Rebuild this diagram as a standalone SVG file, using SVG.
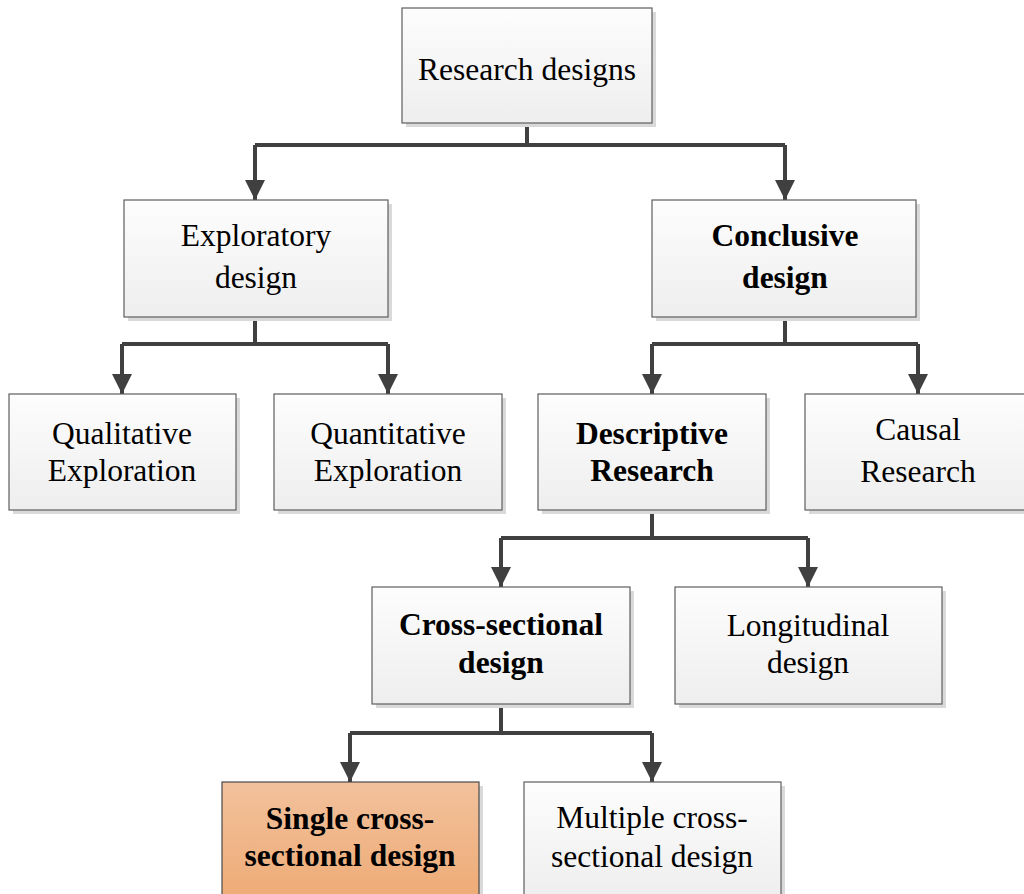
<svg xmlns="http://www.w3.org/2000/svg" width="1024" height="894" viewBox="0 0 1024 894">
<defs>
<linearGradient id="g" x1="0" y1="0" x2="0" y2="1"><stop offset="0" stop-color="#fdfdfd"/><stop offset="1" stop-color="#eeeeee"/></linearGradient>
<linearGradient id="go" x1="0" y1="0" x2="0" y2="1"><stop offset="0" stop-color="#f2c19c"/><stop offset="1" stop-color="#eeab76"/></linearGradient>
<marker id="ah" markerUnits="userSpaceOnUse" markerWidth="22" markerHeight="22" refX="20" refY="10" orient="auto"><path d="M0,0 L20,10 L0,20 Z" fill="#404040"/></marker>
<style>
.sh{fill:#d9d9d9}
.bx{fill:url(#g);stroke:#5e5e5e;stroke-width:1.2}
.bo{fill:url(#go);stroke:#4a4a4a;stroke-width:1.2}
text{font-family:"Liberation Serif","Times New Roman",serif;font-size:31.5px;fill:#000;text-anchor:middle}
.b{font-weight:bold}
.c{fill:none;stroke:#404040;stroke-width:4}
</style>
</defs>
<g id="connectors">
<path class="c" d="M527,123 V145"/>
<path class="c" d="M255,145 H785"/>
<path class="c" d="M255,145 V200" marker-end="url(#ah)"/>
<path class="c" d="M785,145 V200" marker-end="url(#ah)"/>
<path class="c" d="M255,317 V344 M122,344 H388"/>
<path class="c" d="M122,344 V394" marker-end="url(#ah)"/>
<path class="c" d="M388,344 V394" marker-end="url(#ah)"/>
<path class="c" d="M785,317 V344 M652,344 H918"/>
<path class="c" d="M652,344 V394" marker-end="url(#ah)"/>
<path class="c" d="M918,344 V394" marker-end="url(#ah)"/>
<path class="c" d="M652,510 V538 M501,538 H808"/>
<path class="c" d="M501,538 V587" marker-end="url(#ah)"/>
<path class="c" d="M808,538 V587" marker-end="url(#ah)"/>
<path class="c" d="M501,704 V733 M350,733 H652"/>
<path class="c" d="M350,733 V782" marker-end="url(#ah)"/>
<path class="c" d="M652,733 V782" marker-end="url(#ah)"/>
</g>
<g id="n-research">
<rect class="sh" x="406" y="12" width="250" height="115"/>
<rect class="bx" x="402" y="8" width="250" height="115"/>
<text x="527" y="80">Research designs</text>
</g>
<g id="n-exploratory">
<rect class="sh" x="128" y="204" width="264" height="117"/>
<rect class="bx" x="124" y="200" width="264" height="117"/>
<text x="256" y="246">Exploratory</text>
<text x="256" y="288">design</text>
</g>
<g id="n-conclusive">
<rect class="sh" x="656" y="204" width="264" height="117"/>
<rect class="bx" x="652" y="200" width="264" height="117"/>
<text class="b" x="785" y="246">Conclusive</text>
<text class="b" x="785" y="288">design</text>
</g>
<g id="n-qualitative">
<rect class="sh" x="13" y="398" width="227" height="116"/>
<rect class="bx" x="9" y="394" width="227" height="116"/>
<text x="122" y="444">Qualitative</text>
<text x="122" y="481">Exploration</text>
</g>
<g id="n-quantitative">
<rect class="sh" x="278" y="398" width="228" height="116"/>
<rect class="bx" x="274" y="394" width="228" height="116"/>
<text x="388" y="444">Quantitative</text>
<text x="388" y="481">Exploration</text>
</g>
<g id="n-descriptive">
<rect class="sh" x="542" y="398" width="228" height="116"/>
<rect class="bx" x="538" y="394" width="228" height="116"/>
<text class="b" x="652" y="444">Descriptive</text>
<text class="b" x="652" y="481">Research</text>
</g>
<g id="n-causal">
<rect class="sh" x="809" y="398" width="228" height="116"/>
<rect class="bx" x="805" y="394" width="228" height="116"/>
<text x="918" y="440">Causal</text>
<text x="918" y="482">Research</text>
</g>
<g id="n-cross">
<rect class="sh" x="376" y="591" width="258" height="117"/>
<rect class="bx" x="372" y="587" width="258" height="117"/>
<text class="b" x="501" y="635">Cross-sectional</text>
<text class="b" x="501" y="673">design</text>
</g>
<g id="n-longitudinal">
<rect class="sh" x="679" y="591" width="267" height="117"/>
<rect class="bx" x="675" y="587" width="267" height="117"/>
<text x="808" y="636">Longitudinal</text>
<text x="808" y="673">design</text>
</g>
<g id="n-single">
<rect class="sh" x="226" y="786" width="257" height="117"/>
<rect class="bo" x="222" y="782" width="257" height="117"/>
<text class="b" x="350" y="829">Single cross-</text>
<text class="b" x="350" y="866">sectional design</text>
</g>
<g id="n-multiple">
<rect class="sh" x="528" y="786" width="257" height="117"/>
<rect class="bx" x="524" y="782" width="257" height="117"/>
<text x="652" y="828">Multiple cross-</text>
<text x="652" y="867">sectional design</text>
</g>
</svg>
